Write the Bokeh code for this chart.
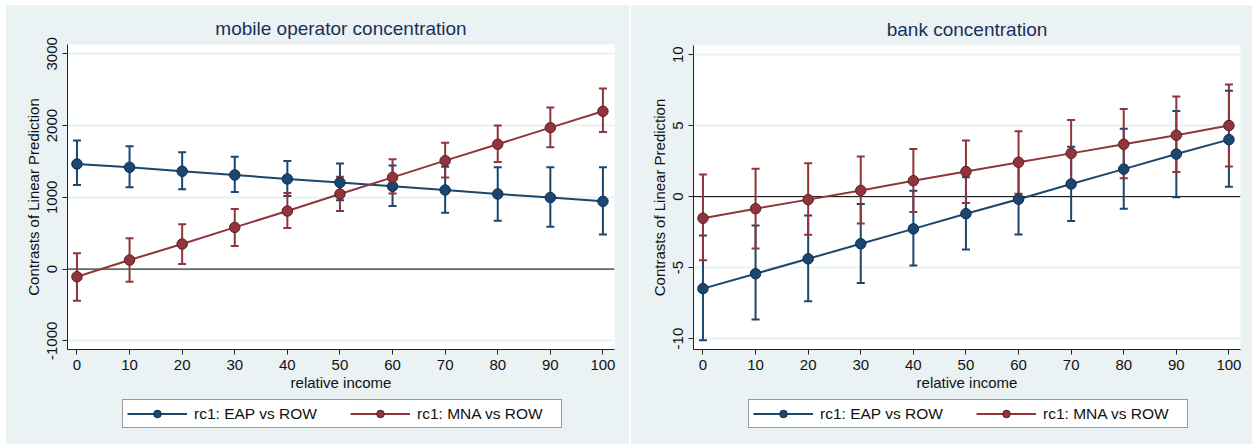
from bokeh.plotting import figure
from bokeh.layouts import row, column
from bokeh.models import Span, FixedTicker, Legend, LegendItem, Range1d
from bokeh.embed import file_html
from bokeh.resources import INLINE

# ---------------- data ----------------
income = [0, 10, 20, 30, 40, 50, 60, 70, 80, 90, 100]

# mobile operator concentration
mob_eap = [1465, 1419, 1363, 1312, 1256, 1207, 1153, 1102, 1047, 997, 944]
mob_eap_hi = [1791, 1712, 1628, 1567, 1507, 1470, 1445, 1425, 1419, 1419, 1419]
mob_eap_lo = [1172, 1140, 1112, 1074, 1019, 960, 878, 786, 674, 590, 481]
mob_mna = [-107, 126, 349, 581, 809, 1046, 1278, 1511, 1739, 1971, 2199]
mob_mna_hi = [219, 428, 623, 837, 1060, 1288, 1529, 1762, 2000, 2251, 2516]
mob_mna_lo = [-442, -177, 70, 321, 572, 809, 1055, 1278, 1493, 1697, 1911]

# bank concentration
bank_eap = [-6.48, -5.43, -4.38, -3.32, -2.27, -1.20, -0.18, 0.89, 1.94, 3.00, 4.02]
bank_eap_hi = [-2.74, -2.04, -1.33, -0.51, 0.42, 1.36, 2.27, 3.52, 4.79, 6.04, 7.47]
bank_eap_lo = [-10.11, -8.66, -7.37, -6.09, -4.85, -3.72, -2.66, -1.71, -0.85, -0.05, 0.70]
bank_mna = [-1.52, -0.85, -0.21, 0.44, 1.12, 1.77, 2.42, 3.05, 3.69, 4.33, 5.01]
bank_mna_hi = [1.56, 1.97, 2.35, 2.83, 3.36, 3.95, 4.60, 5.40, 6.18, 7.05, 7.91]
bank_mna_lo = [-4.48, -3.65, -2.69, -1.90, -1.09, -0.45, 0.20, 0.70, 1.29, 1.73, 2.13]

x_ticks = [0, 10, 20, 30, 40, 50, 60, 70, 80, 90, 100]
mob_y_ticks = [-1000, 0, 1000, 2000, 3000]
bank_y_ticks = [-10, -5, 0, 5, 10]

label_eap = "rc1: EAP vs ROW"
label_mna = "rc1: MNA vs ROW"

# ---------------- style ----------------
BG = "#EAF2F3"
NAVY = "#1A476F"
NAVY_EDGE = "#0E2F4E"
MAROON = "#90353B"
MAROON_EDGE = "#5E1F24"
TITLE_COLOR = "#1B2F5A"
FONT = "Liberation Sans"
MAIN_H = 394
LEG_H = 45


def series_style(col, edge):
    return dict(line=dict(line_color=col, line_width=2),
                marker=dict(marker="circle", size=10.5, fill_color=col,
                            line_color=edge, line_width=1))


STYLES = [series_style(NAVY, NAVY_EDGE), series_style(MAROON, MAROON_EDGE)]


def panel(title, eap, eap_lo, eap_hi, mna, mna_lo, mna_hi, y_range, y_ticks,
          fig_w, bl, br, bt, left_margin):
    p = figure(width=fig_w, height=MAIN_H,
               x_range=Range1d(-1.8, 102.2), y_range=Range1d(*y_range),
               output_backend="svg", toolbar_location=None,
               min_border_left=bl, min_border_right=br,
               min_border_top=bt, min_border_bottom=50)
    p.background_fill_color = "white"
    p.border_fill_color = BG
    p.outline_line_color = None

    p.title.text = title
    p.title.align = "center"
    p.title.text_font = FONT
    p.title.text_font_size = "19px"
    p.title.text_font_style = "normal"
    p.title.text_color = TITLE_COLOR
    p.title.standoff = 11

    p.xaxis.ticker = FixedTicker(ticks=x_ticks)
    p.yaxis.ticker = FixedTicker(ticks=y_ticks)
    p.yaxis.major_label_orientation = "vertical"
    p.yaxis.major_label_overrides = {t: str(t) for t in y_ticks}
    p.xaxis.axis_label = "relative income"
    p.yaxis.axis_label = "Contrasts of Linear Prediction"
    for ax in (p.xaxis, p.yaxis):
        ax.axis_line_color = "#222222"
        ax.axis_line_width = 1
        ax.major_tick_line_color = "#222222"
        ax.major_tick_out = 5
        ax.major_tick_in = 0
        ax.minor_tick_line_color = None
        ax.major_label_text_font = FONT
        ax.major_label_text_font_size = "15px"
        ax.major_label_text_color = "#111111"
        ax.major_label_standoff = 5
        ax.axis_label_text_font = FONT
        ax.axis_label_text_font_size = "15px"
        ax.axis_label_text_font_style = "normal"
        ax.axis_label_text_color = "#111111"
    p.xaxis.axis_label_standoff = 1
    p.yaxis.axis_label_standoff = 3

    p.xgrid.grid_line_color = None
    p.ygrid.grid_line_color = BG
    p.ygrid.grid_line_width = 2

    zero = Span(location=0, dimension="width", line_color="black",
                line_width=1, level="underlay")
    p.add_layout(zero)

    # confidence intervals
    for lo, hi, col in ((eap_lo, eap_hi, NAVY), (mna_lo, mna_hi, MAROON)):
        p.segment(x0=income, y0=lo, x1=income, y1=hi, line_color=col, line_width=2)
        p.scatter(x=income + income, y=list(lo) + list(hi), marker="dash",
                  size=8, line_color=col, line_width=2)

    for vals, st in ((eap, STYLES[0]), (mna, STYLES[1])):
        p.line(income, vals, **st["line"])
        p.scatter(income, vals, **st["marker"])

    # legend strip below the panel (its frame is aligned with the panel frame)
    lg = figure(width=fig_w, height=LEG_H, x_range=Range1d(0, 1), y_range=Range1d(0, 1),
                x_axis_type=None, y_axis_type=None,
                output_backend="svg", toolbar_location=None,
                min_border_left=0, min_border_right=0, min_border_top=0, min_border_bottom=0)
    lg.background_fill_color = BG
    lg.border_fill_color = BG
    lg.outline_line_color = None
    lg.xgrid.visible = False
    lg.ygrid.visible = False
    items = []
    for lab, st in ((label_eap, STYLES[0]), (label_mna, STYLES[1])):
        r1 = lg.line(x=[-5, -4], y=[-5, -4], **st["line"])
        r2 = lg.scatter(x=[-5], y=[-5], **st["marker"])
        items.append(LegendItem(label=lab, renderers=[r1, r2]))
    legend = Legend(items=items, orientation="horizontal", location=(55, 16))
    legend.border_line_color = "#333333"
    legend.border_line_width = 1
    legend.background_fill_color = "white"
    legend.background_fill_alpha = 1
    legend.label_text_font = FONT
    legend.label_text_font_size = "15.5px"
    legend.label_text_color = "#111111"
    legend.glyph_width = 60
    legend.glyph_height = 19
    legend.label_height = 19
    legend.label_standoff = 7
    legend.label_width = 140
    legend.spacing = 16
    legend.padding = 4
    legend.margin = 0
    lg.add_layout(legend, "center")
    return column(p, lg, margin=(5, 0, 0, left_margin),
                  styles={"background-color": BG})


c1 = panel("mobile operator concentration", mob_eap, mob_eap_lo, mob_eap_hi,
           mob_mna, mob_mna_lo, mob_mna_hi, (-1121, 3130), mob_y_ticks,
           623, 61, 15, 39, 6)
c2 = panel("bank concentration", bank_eap, bank_eap_lo, bank_eap_hi,
           bank_mna, bank_mna_lo, bank_mna_hi, (-10.77, 10.65), bank_y_ticks,
           621, 62, 12, 40, 2)

layout = row(c1, c2)
open("out.html", "w").write(file_html(layout, INLINE))
